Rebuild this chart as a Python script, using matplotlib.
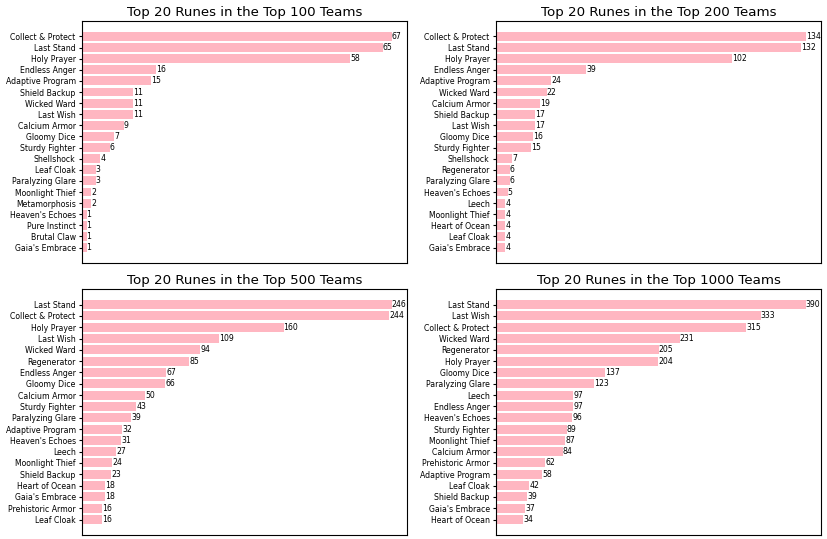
import matplotlib
matplotlib.use("Agg")
import matplotlib.pyplot as plt

# Top 100 teams
runes_100 = ["Collect & Protect", "Last Stand", "Holy Prayer", "Endless Anger", "Adaptive Program",
             "Shield Backup", "Wicked Ward", "Last Wish", "Calcium Armor", "Gloomy Dice",
             "Sturdy Fighter", "Shellshock", "Leaf Cloak", "Paralyzing Glare", "Moonlight Thief",
             "Metamorphosis", "Heaven's Echoes", "Pure Instinct", "Brutal Claw", "Gaia's Embrace"]
counts_100 = [67, 65, 58, 16, 15, 11, 11, 11, 9, 7, 6, 4, 3, 3, 2, 2, 1, 1, 1, 1]

# Top 200 teams
runes_200 = ["Collect & Protect", "Last Stand", "Holy Prayer", "Endless Anger", "Adaptive Program",
             "Wicked Ward", "Calcium Armor", "Shield Backup", "Last Wish", "Gloomy Dice",
             "Sturdy Fighter", "Shellshock", "Regenerator", "Paralyzing Glare", "Heaven's Echoes",
             "Leech", "Moonlight Thief", "Heart of Ocean", "Leaf Cloak", "Gaia's Embrace"]
counts_200 = [134, 132, 102, 39, 24, 22, 19, 17, 17, 16, 15, 7, 6, 6, 5, 4, 4, 4, 4, 4]

# Top 500 teams
runes_500 = ["Last Stand", "Collect & Protect", "Holy Prayer", "Last Wish", "Wicked Ward",
             "Regenerator", "Endless Anger", "Gloomy Dice", "Calcium Armor", "Sturdy Fighter",
             "Paralyzing Glare", "Adaptive Program", "Heaven's Echoes", "Leech", "Moonlight Thief",
             "Shield Backup", "Heart of Ocean", "Gaia's Embrace", "Prehistoric Armor", "Leaf Cloak"]
counts_500 = [246, 244, 160, 109, 94, 85, 67, 66, 50, 43, 39, 32, 31, 27, 24, 23, 18, 18, 16, 16]

# Top 1000 teams
runes_1000 = ["Last Stand", "Last Wish", "Collect & Protect", "Wicked Ward", "Regenerator",
              "Holy Prayer", "Gloomy Dice", "Paralyzing Glare", "Leech", "Endless Anger",
              "Heaven's Echoes", "Sturdy Fighter", "Moonlight Thief", "Calcium Armor",
              "Prehistoric Armor", "Adaptive Program", "Leaf Cloak", "Shield Backup",
              "Gaia's Embrace", "Heart of Ocean"]
counts_1000 = [390, 333, 315, 231, 205, 204, 137, 123, 97, 97, 96, 89, 87, 84, 62, 58, 42, 39, 37, 34]

panels = [
    (runes_100, counts_100, "Top 20 Runes in the Top 100 Teams", [0.099, 0.512, 0.393, 0.449]),
    (runes_200, counts_200, "Top 20 Runes in the Top 200 Teams", [0.599, 0.512, 0.393, 0.449]),
    (runes_500, counts_500, "Top 20 Runes in the Top 500 Teams", [0.099, 0.007, 0.393, 0.457]),
    (runes_1000, counts_1000, "Top 20 Runes in the Top 1000 Teams", [0.599, 0.007, 0.393, 0.457]),
]

fig = plt.figure(figsize=(8.28, 5.39), dpi=100)

for names, vals, title, pos in panels:
    ax = fig.add_axes(pos)
    bars = ax.barh(names, vals, color="lightpink")
    ax.invert_yaxis()
    ax.set_xticks([])
    ax.set_title(title, fontsize=9.6, pad=3.5)
    ax.tick_params(axis="y", labelsize=5.6, length=2.5, pad=2)
    for b, v in zip(bars, vals):
        ax.text(b.get_width(), b.get_y() + b.get_height() / 2, str(v),
                va="center", ha="left", fontsize=5.6)

fig.savefig("out.png", dpi=100)
